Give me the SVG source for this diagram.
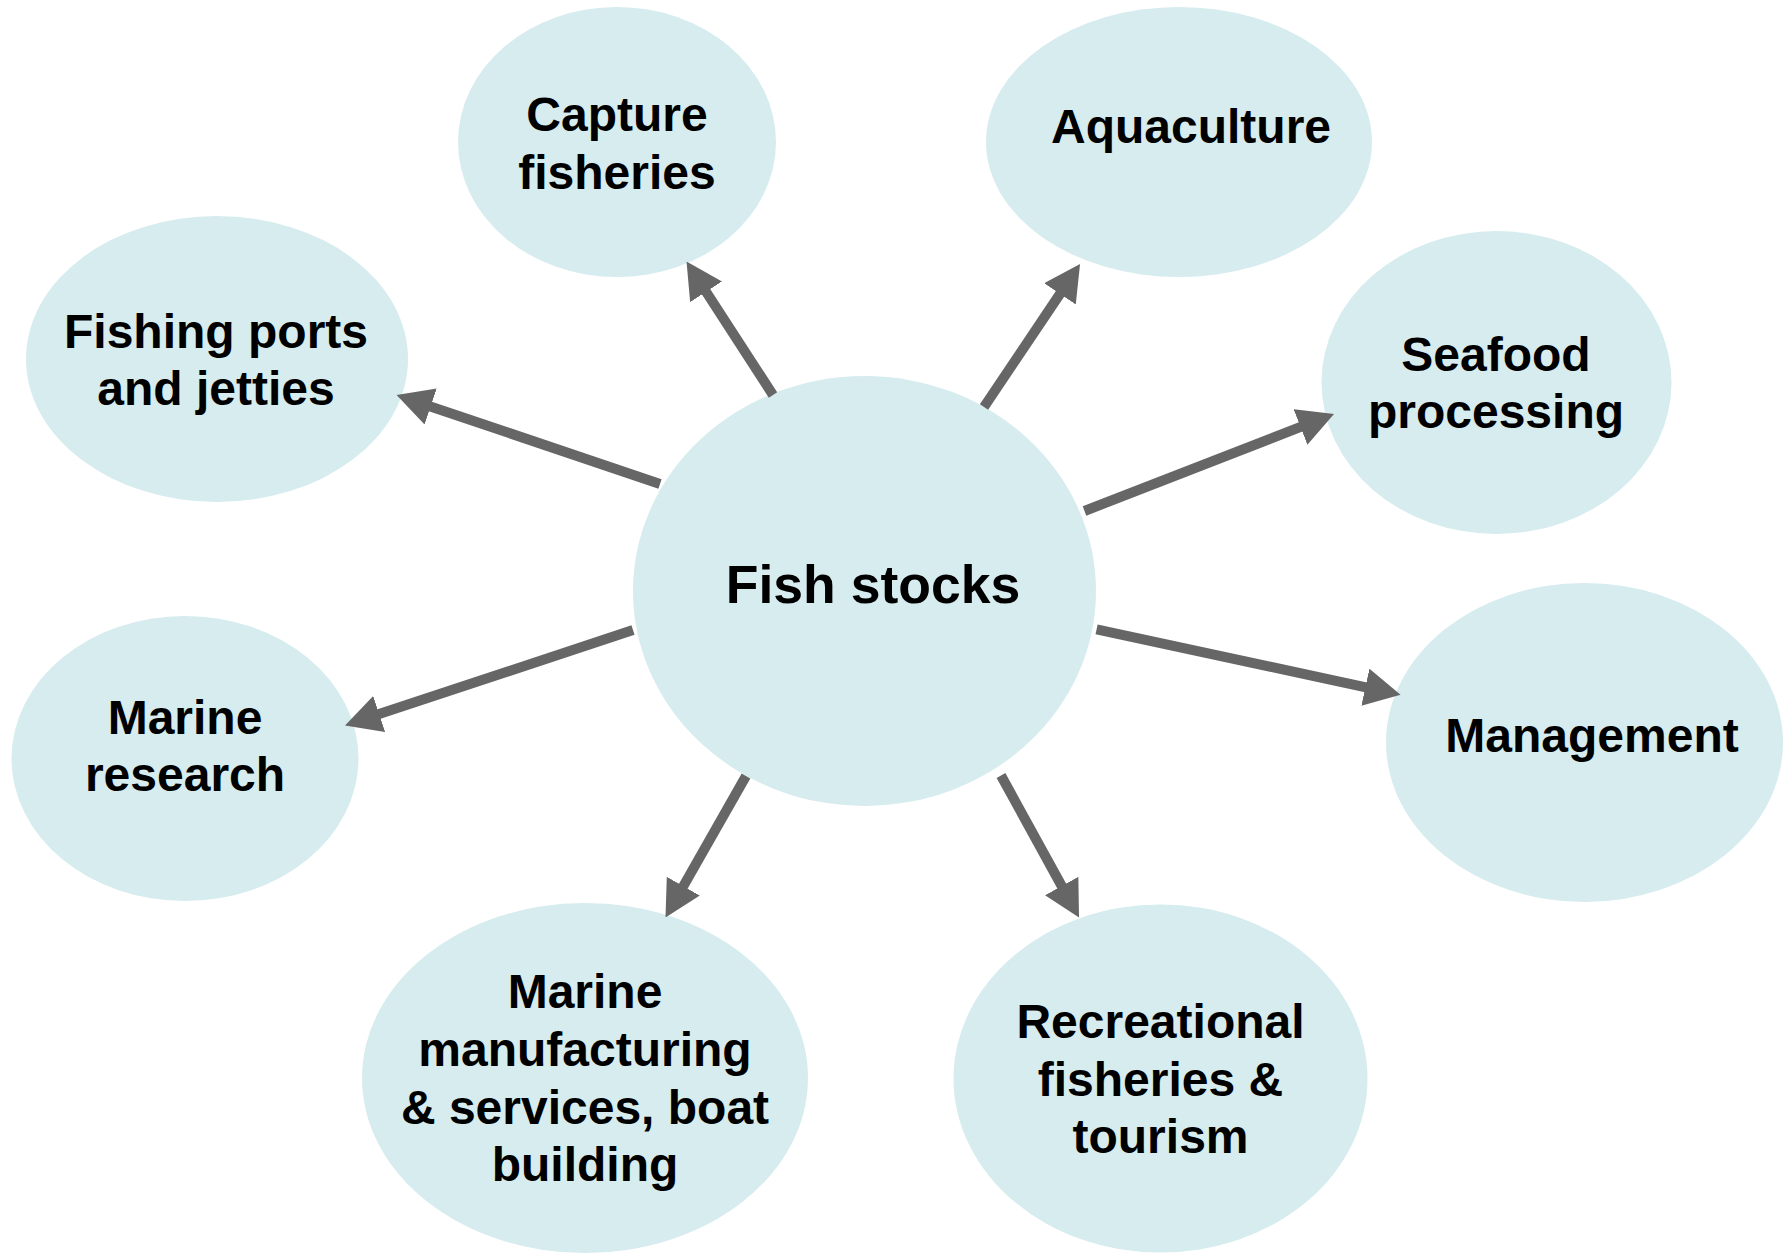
<svg xmlns="http://www.w3.org/2000/svg" width="1791" height="1254" viewBox="0 0 1791 1254">
<style>
.node{fill:#d6ecef;}
.lbl{font-family:"Liberation Sans",Arial,sans-serif;font-weight:bold;font-size:48px;fill:#000;text-anchor:middle;}
.big{font-size:53.5px;}
.conn{stroke:#666666;stroke-width:10;fill:none;marker-end:url(#ah);}
</style>
<defs>
<marker id="ah" markerUnits="userSpaceOnUse" viewBox="0 0 36 38" refX="16" refY="19" markerWidth="36" markerHeight="38" orient="auto">
<path d="M0,0 L36,19 L0,38 Z" fill="#666666"/>
</marker>
</defs>
<rect width="1791" height="1254" fill="#ffffff"/>
<g id="node-capture"><ellipse class="node" cx="617" cy="142" rx="159" ry="135"/><text class="lbl" x="617" y="131">Capture</text><text class="lbl" x="617" y="189">fisheries</text></g>
<g id="node-ports"><ellipse class="node" cx="217" cy="359" rx="191" ry="143"/><text class="lbl" x="216" y="348">Fishing ports</text><text class="lbl" x="216" y="405">and jetties</text></g>
<g id="node-aquaculture"><ellipse class="node" cx="1179" cy="142" rx="193" ry="135"/><text class="lbl" x="1191" y="143">Aquaculture</text></g>
<g id="node-seafood"><ellipse class="node" cx="1496.5" cy="382.5" rx="175" ry="151.5"/><text class="lbl" x="1496" y="371">Seafood</text><text class="lbl" x="1496" y="428">processing</text></g>
<g id="node-management"><ellipse class="node" cx="1584.5" cy="742.5" rx="198.5" ry="159.5"/><text class="lbl" x="1592" y="752">Management</text></g>
<g id="node-research"><ellipse class="node" cx="185" cy="758.5" rx="173.5" ry="142.5"/><text class="lbl" x="185" y="734">Marine</text><text class="lbl" x="185" y="791">research</text></g>
<g id="node-manufacturing"><ellipse class="node" cx="585" cy="1078" rx="223" ry="175"/><text class="lbl" x="585" y="1008">Marine</text><text class="lbl" x="585" y="1066">manufacturing</text><text class="lbl" x="585" y="1124">&amp; services, boat</text><text class="lbl" x="585" y="1181">building</text></g>
<g id="node-recreational"><ellipse class="node" cx="1160.5" cy="1078.5" rx="207" ry="174"/><text class="lbl" x="1160.5" y="1038">Recreational</text><text class="lbl" x="1160.5" y="1096">fisheries &amp;</text><text class="lbl" x="1160.5" y="1153">tourism</text></g>
<g id="node-fishstocks"><ellipse class="node" cx="864.5" cy="591" rx="231.5" ry="215"/><text class="lbl big" x="873" y="603">Fish stocks</text></g>
<g id="connectors">
<line class="conn" x1="773" y1="395" x2="697.4" y2="278.4"/>
<line class="conn" x1="660" y1="484" x2="415.5" y2="401.4"/>
<line class="conn" x1="984" y1="407" x2="1068.9" y2="280.6"/>
<line class="conn" x1="1084.5" y1="511" x2="1315.4" y2="421.2"/>
<line class="conn" x1="1096.6" y1="629.4" x2="1381" y2="690.6"/>
<line class="conn" x1="633" y1="630" x2="364" y2="719.1"/>
<line class="conn" x1="746" y1="776" x2="675.4" y2="900.1"/>
<line class="conn" x1="1001" y1="775.5" x2="1069.4" y2="900"/>
</g>
</svg>
